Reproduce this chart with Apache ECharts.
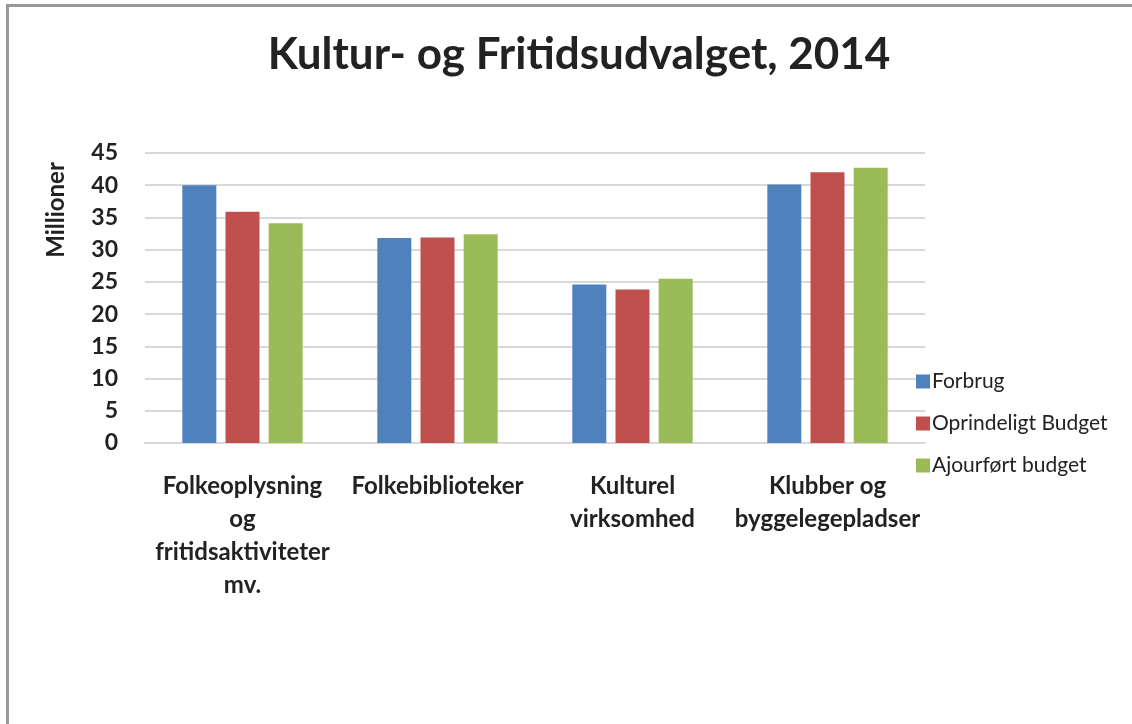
<!DOCTYPE html>
<html>
<head>
<meta charset="utf-8">
<script src="https://cdn.jsdelivr.net/npm/echarts@6/dist/echarts.min.js"></script>
<style>
  html, body { margin: 0; padding: 0; background: #fff; }
  #frame {
    position: absolute; left: 6px; top: 4px; right: 0; bottom: 0;
    border-left: 3px solid #999; border-top: 3px solid #999;
  }
  #chart { position: absolute; left: 0; top: 0; width: 1132px; height: 724px; }
</style>
</head>
<body>
<div id="frame"></div>
<div id="chart"></div>
<script>
const categories = [
  'Folkeoplysning\nog\nfritidsaktiviteter\nmv.',
  'Folkebiblioteker',
  'Kulturel\nvirksomhed',
  'Klubber og\nbyggelegepladser'
];
const seriesNames = ['Forbrug', 'Oprindeligt Budget', 'Ajourført budget'];
const forbrug = [40.0, 31.8, 24.6, 40.1];
const oprindeligtBudget = [35.9, 31.9, 23.8, 42.0];
const ajourfoertBudget = [34.1, 32.4, 25.5, 42.7];
const colors = ['#4f81bd', '#c0504d', '#9bbb59'];

const chart = echarts.init(document.getElementById('chart'));

const font = 'Lato, "Open Sans", sans-serif';
const seriesData = [forbrug, oprindeligtBudget, ajourfoertBudget];

const option = {
  animation: false,
  title: {
    text: 'Kultur- og Fritidsudvalget, 2014',
    left: 574,
    top: 28,
    textAlign: 'center',
    textStyle: { fontFamily: font, fontWeight: 'bold', fontSize: 44, color: '#222' }
  },
  legend: {
    orient: 'vertical',
    left: 911,
    top: 366,
    itemWidth: 14,
    itemHeight: 14,
    itemGap: 21,
    icon: 'rect',
    data: seriesNames,
    textStyle: { fontFamily: font, fontSize: 21, color: '#222', padding: [0, 0, 0, -3] }
  },
  grid: { left: 145, right: 207, top: 153, bottom: 281 },
  graphic: [{
    type: 'text',
    x: 56,
    y: 210,
    rotation: Math.PI / 2,
    style: {
      text: 'Millioner',
      fontFamily: font,
      fontWeight: 'bold',
      fontSize: 24,
      fill: '#222',
      textAlign: 'center',
      textVerticalAlign: 'middle'
    }
  }],
  xAxis: {
    type: 'category',
    data: categories,
    axisLine: { lineStyle: { color: '#d9d9d9', width: 2 } },
    axisTick: { show: false },
    axisLabel: {
      margin: 27,
      fontFamily: font,
      fontWeight: 'bold',
      fontSize: 24,
      lineHeight: 33,
      color: '#222',
      interval: 0
    }
  },
  yAxis: {
    type: 'value',
    min: 0,
    max: 45,
    interval: 5,
    axisLine: { show: false },
    axisTick: { show: false },
    splitLine: { lineStyle: { color: '#d9d9d9', width: 2 } },
    axisLabel: {
      margin: 27,
      fontFamily: font,
      fontWeight: 'bold',
      fontSize: 23,
      color: '#222'
    }
  },
  series: seriesNames.map((name, i) => ({
    name,
    type: 'bar',
    data: seriesData[i],
    barWidth: 34,
    barGap: '27%',
    itemStyle: { color: colors[i] }
  }))
};

chart.setOption(option);
</script>
</body>
</html>
